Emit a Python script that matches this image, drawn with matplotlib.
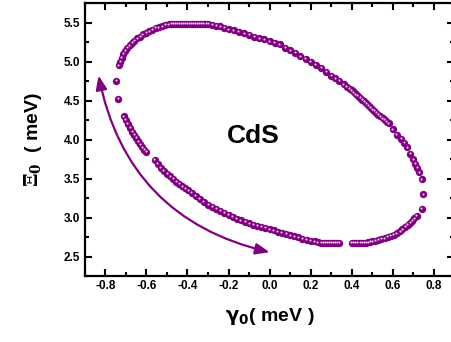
import matplotlib
matplotlib.use("Agg")
import matplotlib.pyplot as plt
import matplotlib.transforms as mtransforms
from matplotlib.ticker import MultipleLocator

plt.rcParams['font.family'] = ['Liberation Sans', 'DejaVu Sans']

# ---- data (gamma0, Xi0) ----
top_x = [-0.748, -0.738, -0.735, -0.728, -0.720, -0.712, -0.703, -0.693, -0.682, -0.670, -0.658,
         -0.645, -0.631, -0.617, -0.602, -0.587, -0.571, -0.555, -0.539, -0.523, -0.507, -0.491,
         -0.48, -0.47, -0.46, -0.45, -0.44, -0.43, -0.42, -0.41, -0.40, -0.39, -0.38, -0.37,
         -0.36, -0.35, -0.34, -0.33, -0.32, -0.31, -0.30,
         -0.28, -0.26, -0.24, -0.22, -0.20, -0.175, -0.15, -0.125, -0.10, -0.075, -0.05,
         -0.025, 0.0, 0.025, 0.05, 0.075, 0.10, 0.125, 0.15, 0.175, 0.20, 0.225, 0.25, 0.275,
         0.30, 0.32, 0.34, 0.36, 0.375, 0.39, 0.40, 0.41, 0.42, 0.43, 0.44, 0.45, 0.46, 0.47,
         0.48, 0.49, 0.50, 0.51, 0.52, 0.53, 0.54, 0.55, 0.56, 0.57, 0.58, 0.60, 0.62, 0.64,
         0.655, 0.67, 0.685, 0.70, 0.71, 0.72, 0.73, 0.74, 0.748, 0.740]
top_y = [4.75, 4.52, 4.95, 5.00, 5.05, 5.10, 5.14, 5.18, 5.21, 5.24, 5.27,
         5.30, 5.32, 5.35, 5.37, 5.39, 5.41, 5.43, 5.44, 5.45, 5.47, 5.48,
         5.485, 5.485, 5.485, 5.485, 5.485, 5.485, 5.485, 5.485, 5.485, 5.485, 5.485, 5.485,
         5.485, 5.485, 5.485, 5.485, 5.485, 5.485, 5.485,
         5.47, 5.46, 5.45, 5.43, 5.415, 5.40, 5.38, 5.36, 5.34, 5.32, 5.30,
         5.285, 5.26, 5.24, 5.22, 5.18, 5.145, 5.11, 5.07, 5.035, 5.00, 4.96, 4.92, 4.87,
         4.82, 4.785, 4.75, 4.71, 4.68, 4.65, 4.63, 4.605, 4.58, 4.56, 4.535, 4.51, 4.49, 4.465,
         4.44, 4.415, 4.39, 4.37, 4.345, 4.32, 4.30, 4.275, 4.25, 4.23, 4.21, 4.13, 4.06, 4.01,
         3.96, 3.90, 3.82, 3.745, 3.69, 3.64, 3.58, 3.49, 3.30, 3.115]

bot_x = [0.716, 0.705, 0.695, 0.685, 0.672, 0.66, 0.647, 0.635, 0.62, 0.605, 0.59, 0.575,
         0.56, 0.545, 0.53, 0.515, 0.50, 0.49, 0.48, 0.47, 0.46, 0.45, 0.44, 0.43, 0.42, 0.41, 0.40,
         0.34, 0.33, 0.32, 0.31, 0.30, 0.29, 0.28, 0.27, 0.26, 0.25,
         0.235, 0.22, 0.20, 0.18, 0.16, 0.14, 0.12, 0.10, 0.08, 0.06, 0.04, 0.02, 0.0,
         -0.02, -0.04, -0.06, -0.08, -0.10, -0.12, -0.14, -0.16, -0.18, -0.20, -0.22, -0.24,
         -0.26, -0.28, -0.30, -0.32, -0.34, -0.36, -0.38, -0.395, -0.41, -0.425, -0.44, -0.455,
         -0.47, -0.485, -0.50, -0.515, -0.53, -0.545, -0.56,
         -0.60, -0.61, -0.62, -0.63, -0.64, -0.65, -0.66, -0.67, -0.68, -0.69, -0.70, -0.71]
bot_y = [3.02, 2.99, 2.96, 2.935, 2.905, 2.88, 2.85, 2.825, 2.80, 2.78, 2.765, 2.75,
         2.735, 2.725, 2.715, 2.705, 2.695, 2.688, 2.682, 2.678, 2.676, 2.676, 2.676, 2.676, 2.676, 2.676, 2.676,
         2.676, 2.676, 2.676, 2.676, 2.676, 2.676, 2.676, 2.676, 2.676, 2.676,
         2.685, 2.695, 2.705, 2.715, 2.73, 2.745, 2.76, 2.775, 2.79, 2.805, 2.82, 2.835, 2.85,
         2.865, 2.88, 2.895, 2.91, 2.925, 2.945, 2.965, 2.985, 3.01, 3.035, 3.06, 3.085,
         3.11, 3.135, 3.165, 3.20, 3.24, 3.28, 3.32, 3.35, 3.375, 3.40, 3.43, 3.46,
         3.50, 3.53, 3.56, 3.60, 3.64, 3.69, 3.74,
         3.84, 3.87, 3.90, 3.94, 3.98, 4.02, 4.06, 4.10, 4.15, 4.20, 4.25, 4.30]

gamma0 = top_x + bot_x
xi0 = top_y + bot_y

x_ticks = [-0.8, -0.6, -0.4, -0.2, 0.0, 0.2, 0.4, 0.6, 0.8]
y_ticks = [2.5, 3.0, 3.5, 4.0, 4.5, 5.0, 5.5]

arrow_start = (0.0, 2.555)
arrow_end = (-0.833, 4.82)

purple = '#800080'

fig = plt.figure(figsize=(4.51, 3.42), dpi=100)
ax = fig.add_axes([0.188, 0.193, 0.8195, 0.798])

ax.plot(gamma0, xi0, 'o', color=purple, markersize=5.3, markeredgewidth=0, zorder=3)
hl = mtransforms.offset_copy(ax.transData, fig=fig, x=-0.3, y=0.4, units='points')
ax.plot(gamma0, xi0, 'o', color='#ecd0ec', markersize=1.5, markeredgewidth=0,
        transform=hl, zorder=4)

ax.annotate('', xy=arrow_end, xytext=arrow_start,
            arrowprops=dict(arrowstyle='<|-|>,head_length=0.7,head_width=0.28',
                            connectionstyle='arc3,rad=-0.32', color=purple,
                            lw=1.6, shrinkA=0, shrinkB=0, mutation_scale=12))

ax.text(-0.08, 4.04, 'CdS', fontsize=19, fontweight='bold', ha='center', va='center')

ax.set_xlim(-0.9, 0.9)
ax.set_ylim(2.25, 5.75)
ax.set_xticks(x_ticks)
ax.set_yticks(y_ticks)
ax.set_xticklabels([f'{v:.1f}' for v in x_ticks])
ax.set_yticklabels([f'{v:.1f}' for v in y_ticks])
ax.xaxis.set_minor_locator(MultipleLocator(0.1))
ax.yaxis.set_minor_locator(MultipleLocator(0.25))
ax.tick_params(which='both', direction='in', top=True, right=True, width=1.5)
ax.tick_params(which='major', length=5, labelsize=8.5)
ax.tick_params(axis='x', which='major', pad=3)
ax.tick_params(which='minor', length=3)
for lab in ax.get_xticklabels() + ax.get_yticklabels():
    lab.set_fontweight('bold')
for s in ax.spines.values():
    s.set_linewidth(1.6)

ax.set_xlabel(r'$\mathbf{\gamma_0}$( meV )', fontsize=14, fontweight='bold', labelpad=10,
              math_fontfamily='dejavusans')
ax.set_ylabel(r'$\mathbf{\Xi_0}$  ( meV)', fontsize=14, fontweight='bold', labelpad=14,
              math_fontfamily='dejavuserif')

fig.savefig('out.png', dpi=100)
